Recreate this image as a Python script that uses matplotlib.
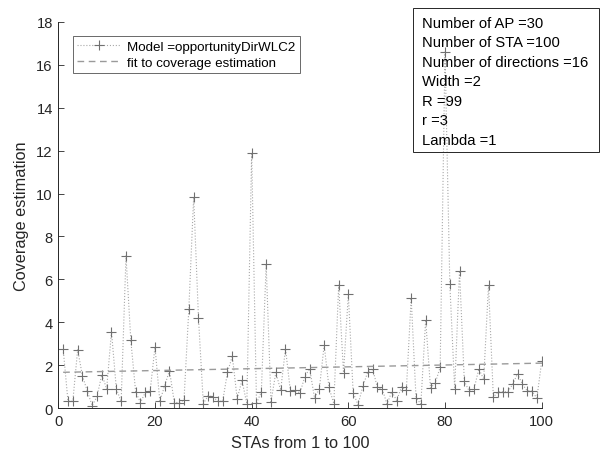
import numpy as np
import matplotlib
matplotlib.use("Agg")
import matplotlib.pyplot as plt
from matplotlib.patches import Rectangle

# --- data ---
sta = np.arange(1, 101)
coverage = [
    2.76, 0.33, 0.33, 2.73, 1.50, 0.80, 0.12, 0.55, 1.57, 0.91,
    3.57, 0.91, 0.32, 7.10, 3.16, 0.76, 0.27, 0.74, 0.81, 2.86,
    0.33, 1.05, 1.76, 0.27, 0.27, 0.38, 4.62, 9.84, 4.19, 0.22,
    0.59, 0.53, 0.33, 0.33, 1.68, 2.43, 0.45, 1.30, 0.21, 11.90,
    0.24, 0.76, 6.71, 0.31, 1.67, 0.84, 2.78, 0.82, 0.84, 0.71,
    1.48, 1.85, 0.48, 0.90, 2.95, 0.97, 0.21, 5.73, 1.66, 5.30,
    0.72, 0.17, 1.02, 1.68, 1.85, 0.98, 0.90, 0.20, 0.78, 0.36,
    1.00, 0.84, 5.13, 0.50, 0.20, 4.12, 0.94, 1.19, 1.91, 16.59,
    5.77, 0.91, 6.40, 1.26, 0.80, 0.90, 1.83, 1.36, 5.73, 0.53,
    0.76, 0.77, 0.77, 1.12, 1.61, 1.12, 0.82, 0.80, 0.47, 2.18,
]
info_lines = [
    "Number of AP =30",
    "Number of STA =100",
    "Number of directions =16",
    "Width =2",
    "R =99",
    "r =3",
    "Lambda =1",
]
model_label = "Model =opportunityDirWLC2"
fit_label = "fit to coverage estimation"

# linear fit, as in the original
p = np.polyfit(sta, coverage, 1)
fit = np.polyval(p, sta)

plt.rcParams['font.family'] = ['Liberation Sans', 'DejaVu Sans']
dark = '#262626'

fig = plt.figure(figsize=(6.0, 4.56), dpi=100)
ax = fig.add_axes([0.0972, 0.1024, 0.8056, 0.8478])

ax.plot(sta, coverage, linestyle=':', color='#a8a8a8', linewidth=0.8,
        marker='+', markersize=6.5, markeredgewidth=0.8,
        markeredgecolor='#707070', label=model_label)
ax.plot(sta, fit, linestyle=(0, (4.8, 3.3)), color='#9a9a9a', linewidth=1.0,
        label=fit_label)

ax.set_xlim(0, 100)
ax.set_ylim(0, 18)
ax.set_xticks(range(0, 101, 20))
ax.set_yticks(range(0, 19, 2))
ax.tick_params(direction='in', length=4, width=0.6, colors=dark,
               labelsize=10.6, pad=4)
for side in ['top', 'right']:
    ax.spines[side].set_visible(False)
for side in ['left', 'bottom']:
    ax.spines[side].set_color(dark)
    ax.spines[side].set_linewidth(0.7)

ax.set_xlabel("STAs from 1 to 100", fontsize=11.7, color=dark, labelpad=5)
ax.set_ylabel("Coverage estimation", fontsize=11.7, color=dark, labelpad=5)

leg = ax.legend(loc='upper left', bbox_to_anchor=(0.0310, 0.9626),
                fontsize=9.6, numpoints=1, handlelength=3.25,
                handletextpad=0.5, borderpad=0.3, labelspacing=0.3,
                frameon=True, fancybox=False, borderaxespad=0)
leg.get_frame().set_edgecolor(dark)
leg.get_frame().set_linewidth(0.6)

# annotation box at the top right (transparent, like a MATLAB textbox)
fig.patches.append(Rectangle((0.6888, 1 - 153 / 456), 0.3095, 144 / 456,
                             transform=fig.transFigure, fill=False,
                             edgecolor=dark, linewidth=0.7, zorder=5))
top_y = 1 - 24 / 456
step = 19.5 / 456
for i, line in enumerate(info_lines):
    fig.text(0.7028, top_y - i * step, line, fontsize=10.6, color='black',
             va='center', ha='left', zorder=6)

fig.savefig("out.png", dpi=100)
